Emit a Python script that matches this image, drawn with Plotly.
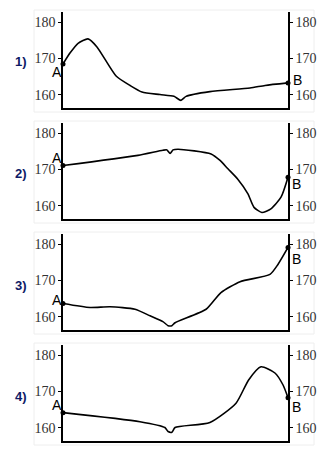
import plotly.graph_objects as go

# Horizontal position along the profile (0 = point A, 100 = point B)
x1 = [0, 3.1, 6.7, 11.1, 15.1, 23.6, 29.8, 35.1, 43.1, 49.3, 52.4, 54.7, 65.3, 83.1, 89.8, 100]
y1 = [168.5, 171.5, 174.2, 175.4, 173.2, 165.2, 162.6, 160.8, 160.1, 159.6, 158.5, 159.6, 160.9, 161.9, 162.6, 163.3]

x2 = [0, 33.3, 44.4, 46.2, 47.6, 48.9, 51.1, 65.8, 69.8, 73.3, 77.6, 82.2, 84.9, 88.4, 92.4, 96.9, 100]
y2 = [171.1, 173.9, 175.3, 175.4, 174.4, 175.4, 175.6, 174.3, 172.5, 170.2, 167.4, 163.3, 159.6, 158.2, 159.2, 162.4, 167.9]

x3 = [0, 12, 20.9, 32, 38.7, 44.4, 46.7, 48.4, 49.8, 63.6, 70.2, 78.7, 92, 95.6, 100]
y3 = [163.7, 162.6, 162.8, 162.1, 160.3, 158.7, 157.6, 157.6, 158.4, 162.1, 166.7, 169.7, 171.7, 174.5, 179.1]

x4 = [0, 34.2, 45.3, 46.7, 48.4, 49.8, 65.3, 76.9, 82.5, 88, 94.2, 97.8, 100]
y4 = [164.2, 161.7, 160.1, 159.0, 158.8, 160.1, 161.5, 166.8, 173.2, 176.8, 175.1, 171.8, 168.3]

panel_labels = ["1)", "2)", "3)", "4)"]
tick_vals = [160, 170, 180]
tick_text = ["160", "170", "180"]
end_labels = ["A", "B"]

series = [(x1, y1), (x2, y2), (x3, y3), (x4, y4)]

W, H = 336, 456
x_left_px, x_right_px = 63, 288
bottoms_px = [108, 219, 330, 441]
panel_h = 96
y_range = [156.4, 182.8]

# label offsets (px) for A and B in each panel
a_shift = [(-6, -8), (-6, 8), (-6, 3), (-6, 8)]
b_shift = [(9, 3), (8, -7), (8, -12), (8, -9)]
label_y_px = [62, 174, 285, 396]

fig = go.Figure()
layout = dict(
    width=W, height=H, margin=dict(l=0, r=0, t=0, b=0),
    paper_bgcolor="white", plot_bgcolor="white", showlegend=False,
)
shapes = []
annotations = []

tick_font = dict(family="Liberation Serif", size=14, color="#333333")
end_font = dict(family="Liberation Sans", size=14, color="black")

for i, (xs, ys) in enumerate(series):
    n = i + 1
    xa = "x" if n == 1 else f"x{n}"
    ya = "y" if n == 1 else f"y{n}"
    yr = f"y{n + 4}"
    bottom = bottoms_px[i]
    top = bottom - panel_h
    dom_y = [1 - bottom / H, 1 - top / H]
    dom_x = [x_left_px / W, x_right_px / W]

    fig.add_trace(go.Scatter(
        x=xs, y=ys, xaxis=xa, yaxis=ya, mode="lines",
        line=dict(color="black", width=1.6, shape="spline", smoothing=0.6),
        hoverinfo="skip", cliponaxis=False,
    ))
    fig.add_trace(go.Scatter(
        x=[xs[0], xs[-1]], y=[ys[0], ys[-1]], xaxis=xa, yaxis=ya, mode="markers",
        marker=dict(color="black", size=5), hoverinfo="skip", cliponaxis=False,
    ))
    # invisible trace to activate the right-hand axis
    fig.add_trace(go.Scatter(
        x=[xs[0]], y=[ys[0]], xaxis=xa, yaxis=yr, mode="markers",
        marker=dict(opacity=0), hoverinfo="skip",
    ))

    xkey = "xaxis" if n == 1 else f"xaxis{n}"
    ykey = "yaxis" if n == 1 else f"yaxis{n}"
    layout[xkey] = dict(
        domain=dom_x, anchor=ya, range=[0, 100], showgrid=False, zeroline=False,
        showticklabels=False, ticks="", showline=True, linecolor="black", linewidth=1.5,
    )
    layout[ykey] = dict(
        domain=dom_y, anchor=xa, range=y_range, showgrid=False, zeroline=False,
        tickvals=tick_vals, ticktext=tick_text, ticks="outside", ticklen=3,
        tickcolor="black", tickwidth=1, tickfont=tick_font,
        showline=True, linecolor="black", linewidth=1.5, side="left",
    )
    layout[f"yaxis{n + 4}"] = dict(
        overlaying=ya, anchor=xa, side="right", range=y_range, showgrid=False,
        zeroline=False, tickvals=tick_vals, ticktext=tick_text, ticks="outside",
        ticklen=3, tickcolor="black", tickwidth=1, tickfont=tick_font,
        showline=True, linecolor="black", linewidth=1.5,
    )

    # faint frame around each panel
    shapes.append(dict(
        type="rect", xref="paper", yref="paper",
        x0=34 / W, x1=314 / W, y0=1 - (bottom + 4) / H, y1=1 - (top - 2) / H,
        line=dict(color="#eeeeee", width=1), layer="below",
    ))

    annotations.append(dict(
        text="<b>" + panel_labels[i] + "</b>", xref="paper", yref="paper",
        x=21 / W, y=1 - label_y_px[i] / H, showarrow=False,
        font=dict(family="Liberation Sans", size=13, color="#0e1a66"),
        xanchor="center", yanchor="middle",
    ))
    annotations.append(dict(
        text=end_labels[0], xref=xa, yref=ya, x=xs[0], y=ys[0], showarrow=False,
        xshift=a_shift[i][0], yshift=a_shift[i][1], font=end_font,
        xanchor="center", yanchor="middle",
    ))
    annotations.append(dict(
        text=end_labels[1], xref=xa, yref=ya, x=xs[-1], y=ys[-1], showarrow=False,
        xshift=b_shift[i][0], yshift=b_shift[i][1], font=end_font,
        xanchor="center", yanchor="middle",
    ))

layout["shapes"] = shapes
layout["annotations"] = annotations
fig.update_layout(**layout)
fig.write_html("out.html", config={"displayModeBar": False})
